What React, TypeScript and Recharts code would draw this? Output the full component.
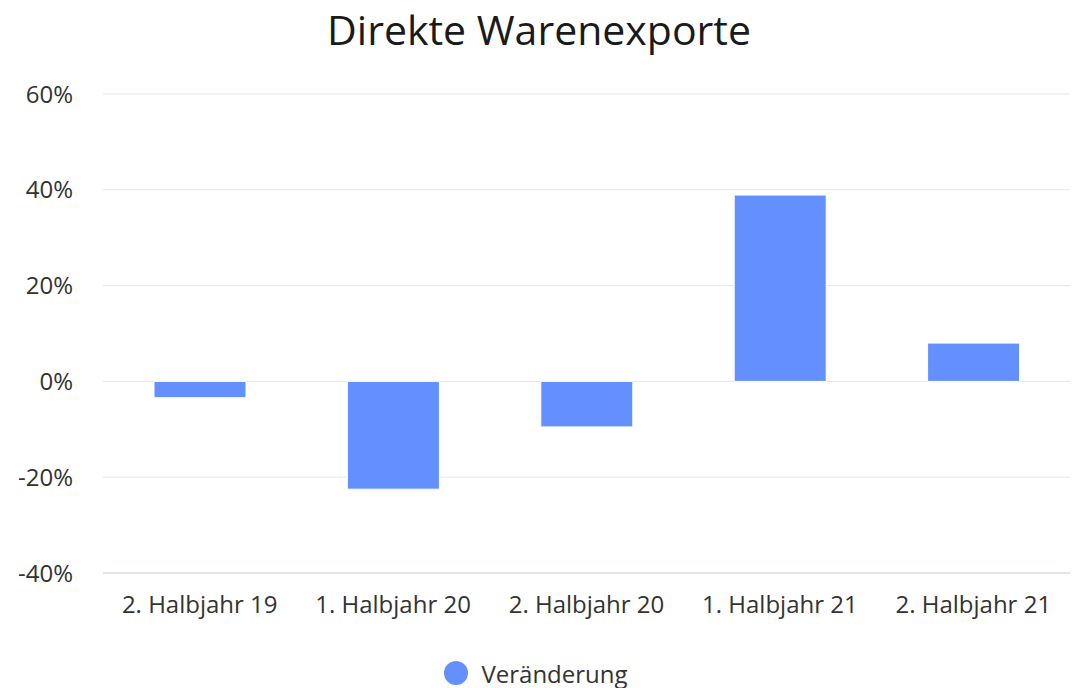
import React from 'react';
import {
  BarChart,
  Bar,
  XAxis,
  YAxis,
  CartesianGrid,
  Legend
} from 'recharts';

const categories: string[] = [
  '2. Halbjahr 19',
  '1. Halbjahr 20',
  '2. Halbjahr 20',
  '1. Halbjahr 21',
  '2. Halbjahr 21',
];

const veraenderung: number[] = [-3.4, -22.5, -9.5, 38.9, 8];

const yTicks: number[] = [-40, -20, 0, 20, 40, 60];

const chartData = categories.map((name, i) => ({
  name,
  value: veraenderung[i],
}));

const FONT = '"Open Sans", Lato, sans-serif';
const BAR_COLOR = '#648fff';

const renderLegend = () => (
  <div
    style={{
      height: 30,
      display: 'flex',
      alignItems: 'center',
      justifyContent: 'center',
      fontSize: 24,
      fontFamily: FONT,
      color: '#333333',
    }}
  >
    <span
      style={{
        display: 'inline-block',
        width: 24,
        height: 24,
        borderRadius: 12,
        background: BAR_COLOR,
        marginRight: 13,
        marginLeft: 2,
      }}
    />
    <span>Veränderung</span>
  </div>
);

const App = () => {
  return (
    <div style={{ position: 'absolute', left: 0, top: 0, width: 1072, height: 688, background: '#fff', fontFamily: FONT }}>
      <div
        style={{
          position: 'absolute',
          top: 2,
          left: 0,
          width: 1078,
          textAlign: 'center',
          fontSize: 41,
          color: '#1a1a1a',
          lineHeight: '54px',
        }}
      >
        Direkte Warenexporte
      </div>
      <BarChart
        width={1072}
        height={688}
        data={chartData}
        margin={{ top: 94, right: 2, bottom: 0, left: 0 }}
      >
        <CartesianGrid vertical={false} stroke="#e6e6e6" />
        <XAxis
          dataKey="name"
          height={85}
          tickLine={false}
          tickSize={0}
          tickMargin={23}
          axisLine={{ stroke: '#ccd6eb' }}
          tick={{ fill: '#333333', fontSize: 24, fontFamily: FONT }}
          interval={0}
        />
        <YAxis
          width={103}
          domain={[-40, 60]}
          ticks={yTicks}
          tickFormatter={(v: number) => `${v}%`}
          axisLine={false}
          tickLine={false}
          tickSize={0}
          tickMargin={30}
          tick={{ fill: '#333333', fontSize: 24, fontFamily: FONT }}
        />
        <Legend content={renderLegend} height={30} />
        <Bar
          dataKey="value"
          name="Veränderung"
          fill={BAR_COLOR}
          stroke="#ffffff"
          strokeWidth={1}
          barSize={92}
          isAnimationActive={false}
        />
      </BarChart>
    </div>
  );
};

export default App;
